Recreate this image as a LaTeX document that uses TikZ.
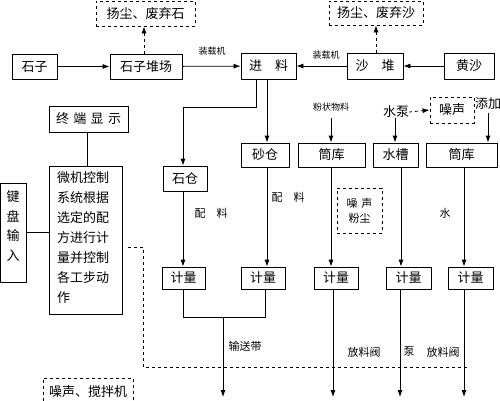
\documentclass[tikz,border=0pt]{standalone}
\usepackage{fontspec}
\setmainfont{Noto Sans CJK SC}
\usetikzlibrary{arrows.meta}
\begin{document}
\begin{tikzpicture}[x=1pt,y=-1pt,
  box/.style={draw,line width=0.8pt,inner sep=0pt,font=\fontsize{13}{15}\selectfont},
  dbox/.style={box,dashed},
  lbl/.style={inner sep=0pt,font=\fontsize{9}{11}\selectfont},
  mlbl/.style={inner sep=0pt,font=\fontsize{11}{13}\selectfont},
  blbl/.style={inner sep=0pt,font=\fontsize{13}{15}\selectfont},
  arr/.style={line width=0.8pt,-{Latex[length=7pt,width=5pt]}},
  ln/.style={line width=0.8pt},
  darr/.style={line width=0.8pt,dashed,-{Latex[length=7pt,width=5pt]}}]
\useasboundingbox (0,0) rectangle (500,400);
\clip (0,0) rectangle (500,400);
\fill[white] (0,0) rectangle (500,400);
% top row
\node[dbox,minimum width=99,minimum height=25] (w1) at (145.5,13.5) {扬尘、废弃石};
\node[dbox,minimum width=94,minimum height=24] (w2) at (376,13) {扬尘、废弃沙};
\node[box,minimum width=45,minimum height=25] (sz) at (34.5,66.5) {石子};
\node[box,minimum width=72,minimum height=25] (dc) at (146,66.5) {石子堆场};
\node[box,minimum width=55,minimum height=26] (jl) at (268.5,66) {进\quad 料};
\node[box,minimum width=56,minimum height=26] (sd) at (375,66) {沙\quad 堆};
\node[box,minimum width=50,minimum height=26] (hs) at (469,66) {黄沙};
\draw[arr] (sz) -- (dc);
\draw[arr] (dc) -- (jl);
\draw[arr] (sd) -- (jl);
\draw[arr] (hs) -- (sd);
\node[lbl] (zz1) at (212,51) {装载机};
\node[lbl] (zz2) at (326,55) {装载机};
\draw[darr] (dc.north -| 144,0) -- (w1.south -| 144,0);
\draw[darr] (sd.north -| 376,0) -- (w2.south -| 376,0);
% left column
\node[box,minimum width=79,minimum height=26] (zd) at (88.5,119) {终\,\,端\,\,显\,\,示};
\node[box,minimum width=73,minimum height=148] (wj) at (85.5,240) {};
\node[anchor=north west,inner sep=0pt,font=\fontsize{13}{20}\selectfont,align=left] (wjt) at (57,171) {微机控制\\系统根据\\选定的配\\方进行计\\量并控制\\各工步动\\作};
\node[box,minimum width=26,minimum height=99] (jp) at (13,232.5) {};
\node[inner sep=0pt,font=\fontsize{13}{19.5}\selectfont,align=center] (jpt) at (13,226) {键\\盘\\输\\入};
\draw[ln] (zd.south -| 87,0) -- (wj.north -| 87,0);
\draw[ln] (jp.east |- 0,232) -- (wj.west |- 0,232);
% bins
\node[box,minimum width=44,minimum height=25] (sc) at (185,178.5) {石仓};
\node[box,minimum width=48,minimum height=24] (scg) at (265,155) {砂仓};
\node[box,minimum width=67,minimum height=24] (tk1) at (331.5,155) {筒库};
\node[box,minimum width=45,minimum height=24] (scao) at (395.5,155) {水槽};
\node[box,minimum width=71,minimum height=24] (tk2) at (461.5,155) {筒库};
\draw[arr] (jl.south -| 256,0) |- (183,107) -- (sc.north -| 183,0);
\draw[arr] (jl.south -| 267,0) -- (scg.north -| 267,0);
\node[lbl] (fz) at (331,107) {粉状物料};
\draw[arr] (331,118) -- (tk1.north -| 331,0);
\node[blbl] (sb) at (396,112) {水泵};
\draw[arr] (sb.south -| 395,0) -- (scao.north -| 395,0);
\node[dbox,minimum width=44,minimum height=26] (zs1) at (452,110) {噪声};
\draw[darr] (sb.east) -- (zs1.west);
\node[blbl,anchor=west] (tj) at (475,104) {添加};
\draw[arr] (488,113) -- (tk2.north -| 488,0);
% metering
\node[box,minimum width=43,minimum height=22] (m1) at (183.5,278) {计量};
\node[box,minimum width=44,minimum height=22] (m2) at (263,278) {计量};
\node[box,minimum width=44,minimum height=22] (m3) at (336,278) {计量};
\node[box,minimum width=45,minimum height=22] (m4) at (408.5,278) {计量};
\node[box,minimum width=45,minimum height=22] (m5) at (470.5,278) {计量};
\draw[arr] (sc.south -| 183,0) -- (m1.north -| 183,0);
\draw[arr] (scg.south -| 267,0) -- (m2.north -| 267,0);
\draw[arr] (tk1.south -| 331,0) -- (m3.north -| 331,0);
\draw[arr] (scao.south -| 401,0) -- (m4.north -| 401,0);
\draw[arr] (tk2.south -| 464,0) -- (m5.north -| 464,0);
\node[mlbl] (pl1) at (211,213) {配\quad 料};
\node[mlbl] (pl2) at (288,197) {配\quad 料};
\node[dbox,minimum width=45,minimum height=45,align=center,font=\fontsize{11}{15}\selectfont] (zs2) at (359.5,210.5) {噪\,\,声\\粉尘};
\node[mlbl] (shui) at (445,213) {水};
% outputs
\coordinate (j1) at (183,317);
\coordinate (j2) at (265,317);
\coordinate (jc) at (223,317);
\coordinate (o1) at (223,397);
\coordinate (o3) at (333,397);
\coordinate (o4) at (400,397);
\coordinate (o5) at (464,397);
\draw[ln] (m1.south -| j1) -- (j1) -- (j2) -- (m2.south -| j2);
\draw[arr] (jc) -- (o1);
\draw[arr] (m3.south -| o3) -- (o3);
\draw[arr] (m4.south -| o4) -- (o4);
\draw[arr] (m5.south -| o5) -- (o5);
\node[mlbl] (ssd) at (245,346) {输送带};
\node[mlbl] (fl1) at (364,352) {放料阀};
\node[mlbl] (beng) at (409,352) {泵};
\node[mlbl] (fl2) at (443,352) {放料阀};
% control dashed line
\coordinate (d1) at (128,247);
\coordinate (d2) at (143,247);
\coordinate (d3) at (143,367);
\coordinate (d4) at (468,367);
\draw[ln,dashed] (d1) -- (d2) -- (d3) -- (d4);
\node[dbox,minimum width=90,minimum height=34,anchor=north] (zs3) at (88,378) {};
\node[blbl] (zs3t) at (88,392) {噪声、搅拌机};
\end{tikzpicture}
\end{document}
